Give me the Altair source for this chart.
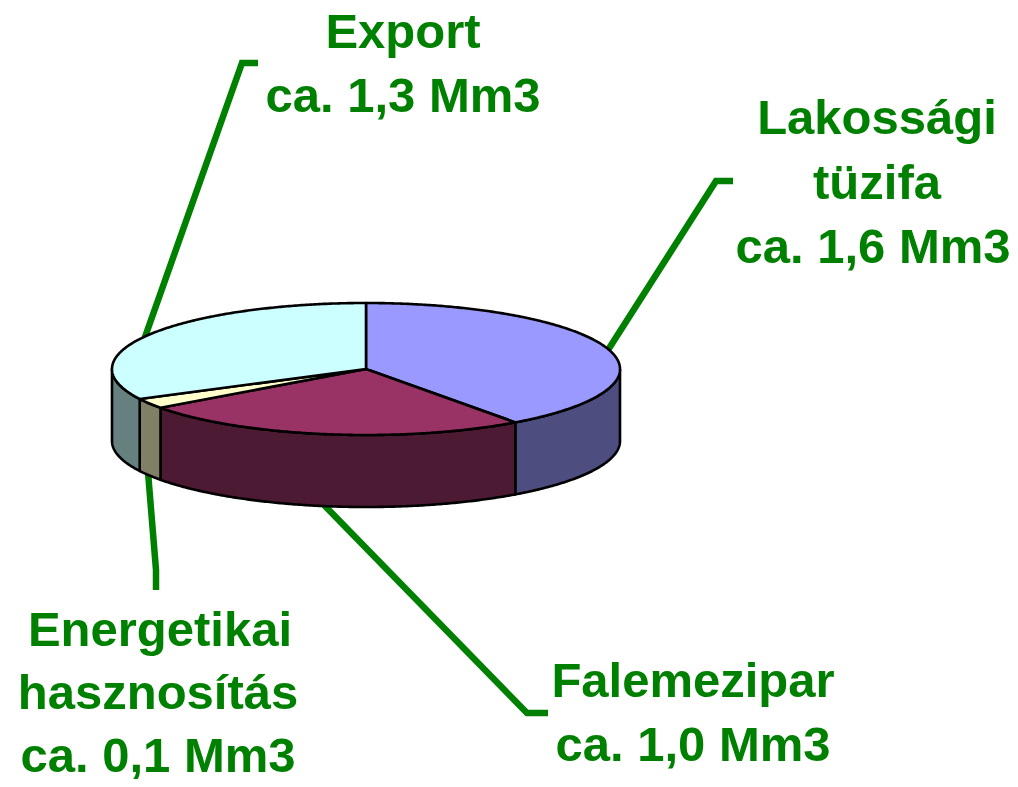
import numpy as np
import pandas as pd
import altair as alt

# Data
categories = ["Lakossági tüzifa", "Falemezipar", "Energetikai hasznosítás", "Export"]
volumes = [1.6, 1.0, 0.1, 1.3]
top_colors = ["#9999FF", "#993366", "#FFFFCC", "#CCFFFF"]
wall_colors = ["#4D4D80", "#4D1A33", "#808066", "#668080"]

label_lines = ["Export", "ca. 1,3 Mm3", "Lakossági", "tüzifa", "ca. 1,6 Mm3",
               "Falemezipar", "ca. 1,0 Mm3", "Energetikai", "hasznosítás", "ca. 0,1 Mm3"]
label_x = [403, 403, 877, 877, 873, 693, 693, 160, 158, 158]
label_y = [48, 112, 134, 199, 263, 697, 761, 646, 709, 772]

leader_ids = ["Export"] * 3 + ["Lakossági"] * 3 + ["Falemezipar"] * 3 + ["Energetikai"] * 3
leader_x = [145, 242, 258, 608, 716, 733, 324, 527, 548, 148, 156, 156]
leader_y = [337, 63, 63, 350, 181, 181, 505, 713, 713, 472, 570, 590]

# Pie projection
CX, CY, RX, RY, DEPTH = 366, 369, 254, 66, 72


def ex(a):
    return CX + RX * np.sin(np.radians(a))


def ey(a):
    return CY - RY * np.cos(np.radians(a))


shares = np.array(volumes) / sum(volumes)
ends = np.cumsum(shares) * 360
starts = np.concatenate([[0], ends[:-1]])

top_rows, wall_rows = [], []
for cat, a0, a1 in zip(categories, starts, ends):
    arc = np.linspace(a0, a1, max(3, int((a1 - a0) * 2)))
    xs = [CX] + list(ex(arc)) + [CX]
    ys = [CY] + list(ey(arc)) + [CY]
    for i, (x, y) in enumerate(zip(xs, ys)):
        top_rows.append(dict(cat=cat, x=x, y=y, o=i))
    w0, w1 = max(a0, 90), min(a1, 270)
    if w1 > w0:
        arc = np.linspace(w0, w1, max(3, int((w1 - w0) * 2)))
        xs = list(ex(arc)) + list(ex(arc[::-1])) + [ex(arc[0])]
        ys = list(ey(arc)) + list(ey(arc[::-1]) + DEPTH) + [ey(arc[0])]
        for i, (x, y) in enumerate(zip(xs, ys)):
            wall_rows.append(dict(cat=cat, x=x, y=y, o=i))

W, H = 1002, 771
xs_ = alt.Scale(domain=[8, 8 + W], range=[0, W], nice=False, zero=False)
ys_ = alt.Scale(domain=[8, 8 + H], range=[0, H], nice=False, zero=False)
X = alt.X("x:Q", scale=xs_, axis=None)
Y = alt.Y("y:Q", scale=ys_, axis=None)


def poly(rows, colors):
    return alt.Chart(pd.DataFrame(rows)).mark_line(
        filled=True, stroke="black", strokeWidth=2.6, strokeJoin="round", clip=False
    ).encode(
        x=X, y=Y, order="o:Q", detail="cat:N",
        fill=alt.Fill("cat:N", scale=alt.Scale(domain=categories, range=colors), legend=None),
    )


leaders = alt.Chart(pd.DataFrame(dict(id=leader_ids, x=leader_x, y=leader_y,
                                      o=list(range(len(leader_x)))))).mark_line(
    color="#008000", strokeWidth=6.5, strokeJoin="miter"
).encode(x=X, y=Y, order="o:Q", detail="id:N")

texts = alt.Chart(pd.DataFrame(dict(t=label_lines, x=label_x, y=label_y))).mark_text(
    font="Liberation Sans", fontWeight="bold", fontSize=49, color="#008000",
    align="center", baseline="alphabetic", clip=False
).encode(x=X, y=Y, text="t:N")

chart = alt.layer(leaders, poly(wall_rows, wall_colors), poly(top_rows, top_colors), texts).resolve_scale(
    fill="independent"
).properties(
    width=W, height=H, padding=0,
    autosize=alt.AutoSizeParams(type="none"),
    background="white",
).configure_view(stroke=None)

chart.save("out.html", embed_options={"renderer": "svg", "actions": False})
